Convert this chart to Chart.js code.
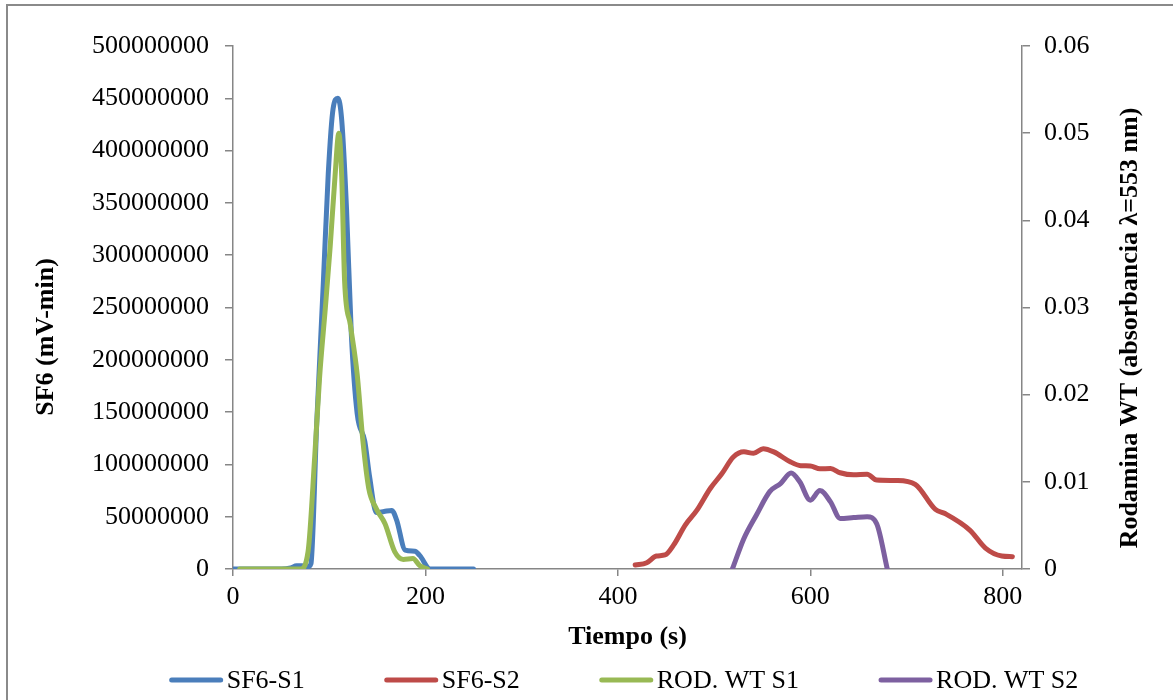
<!DOCTYPE html>
<html>
<head>
<meta charset="utf-8">
<script src="https://cdn.jsdelivr.net/npm/chart.js@4"></script>
<style>
  html, body { margin: 0; padding: 0; background: #fff; }
  #wrap { position: relative; width: 1173px; height: 700px; }
</style>
</head>
<body>
<div id="wrap"><canvas id="c" width="1173" height="700"></canvas></div>
<script>
// ---- Data ----
const seriesNames = ['SF6-S1', 'SF6-S2', 'ROD. WT S1', 'ROD. WT S2'];

// SF6-S1 (left axis, mV-min)
const sf6s1Time = [0, 10, 20, 30, 40, 50, 60, 66, 72, 78, 81, 87, 94, 99, 104, 109, 113, 118, 123, 129, 137, 142, 149, 157, 165, 170, 179, 189, 194, 205, 215, 230, 250];
const sf6s1Vals = [0, 0, 0, 0, 0, 0, 1000000, 3000000, 3000000, 2000000, 5000000, 139000000, 276000000, 378000000, 440000000, 450000000, 429000000, 344000000, 224000000, 149000000, 122000000, 88000000, 54000000, 55000000, 56000000, 47000000, 18000000, 17000000, 13000000, 0, 0, 0, 0];

// SF6-S2 (left axis, mV-min)
const sf6s2Time = [418, 430, 440, 449, 458, 470, 482, 496, 508, 520, 531, 541, 551, 562, 579, 590, 600, 610, 621, 631, 645, 659, 669, 690, 709, 730, 740, 766, 782, 799, 810];
const sf6s2Vals = [3800000, 6000000, 12400000, 13400000, 23000000, 42000000, 56000000, 77000000, 91000000, 107000000, 112000000, 110600000, 115000000, 112000000, 102600000, 98800000, 98500000, 95900000, 96000000, 92000000, 90000000, 90700000, 85000000, 84600000, 81000000, 57000000, 53000000, 37000000, 20000000, 12400000, 11800000];

// ROD. WT S1 (right axis, absorbance)
const rod1Time = [7, 20, 40, 60, 70, 78, 85, 90, 96, 101, 106, 110, 113, 116, 122, 129, 135, 141, 149, 158, 168, 177, 187, 194, 202];
const rod1Vals = [0, 0, 0, 0, 0, 0.002, 0.013, 0.022, 0.030, 0.037, 0.045, 0.050, 0.045, 0.033, 0.028, 0.0224, 0.0147, 0.0093, 0.0069, 0.0052, 0.002, 0.0011, 0.0012, 0.0004, 0];

// ROD. WT S2 (right axis, absorbance)
const rod2Time = [519, 531, 544, 558, 569, 580, 589, 600, 610, 621, 631, 645, 659, 669, 680];
const rod2Vals = [0, 0.0035, 0.0062, 0.0089, 0.0098, 0.011, 0.0100, 0.0079, 0.009, 0.0077, 0.0058, 0.0059, 0.006, 0.0052, 0];

// Tick labels / axis texts
const xTicks = [0, 200, 400, 600, 800];
const xTitle = 'Tiempo (s)';
const yTitle = 'SF6 (mV-min)';
const y1Title = 'Rodamina WT (absorbancia λ=553 nm)';

// ---- Styling ----
const FONT = '"Liberation Serif", "Times New Roman", serif';
const AXIS_GRAY = '#868686';
const colors = ['#4A7EBB', '#BE4B48', '#98B954', '#7D60A0'];

function pts(t, v) { return t.map((x, i) => ({ x: x, y: v[i] })); }

const mk = (i, t, v, axis, order) => ({
  label: seriesNames[i],
  data: pts(t, v),
  yAxisID: axis,
  borderColor: colors[i],
  backgroundColor: colors[i],
  borderWidth: 5,
  pointRadius: 0,
  cubicInterpolationMode: 'monotone',
  borderCapStyle: 'round',
  borderJoinStyle: 'round',
  fill: false,
  order: order
});

const decorPlugin = {
  id: 'decor',
  beforeDraw(chart) {
    const ctx = chart.ctx;
    ctx.save();
    ctx.strokeStyle = '#8a8a8a';
    ctx.lineWidth = 2;
    ctx.beginPath();
    ctx.moveTo(7, 700);
    ctx.lineTo(7, 5);
    ctx.lineTo(1173, 5);
    ctx.stroke();
    ctx.restore();
  },
  afterDraw(chart) {
    const ctx = chart.ctx;
    const ca = chart.chartArea;
    ctx.save();
    ctx.fillStyle = '#000';
    ctx.font = 'bold 26px ' + FONT;
    ctx.textAlign = 'center';
    ctx.textBaseline = 'middle';
    // x title
    ctx.fillText(xTitle, (ca.left + ca.right) / 2, 637);
    // left title
    ctx.save();
    ctx.translate(46, 337);
    ctx.rotate(-Math.PI / 2);
    ctx.fillText(yTitle, 0, 0);
    ctx.restore();
    // right title
    ctx.save();
    ctx.translate(1130, 328);
    ctx.rotate(-Math.PI / 2);
    ctx.fillText(y1Title, 0, 0);
    ctx.restore();

    // legend
    ctx.font = '26px ' + FONT;
    const lineLen = 53, gapText = 4, gapItem = 80;
    const ds = chart.data.datasets;
    const widths = ds.map(d => lineLen + gapText + ctx.measureText(d.label).width);
    const total = widths.reduce((a, b) => a + b, 0) + gapItem * (ds.length - 1);
    let x = 624 - total / 2;
    const ly = 681;
    ds.forEach((d, i) => {
      ctx.strokeStyle = d.borderColor;
      ctx.lineWidth = 5;
      ctx.lineCap = 'round';
      ctx.beginPath();
      ctx.moveTo(x + 2, ly - 1);
      ctx.lineTo(x + lineLen - 2, ly - 1);
      ctx.stroke();
      ctx.fillStyle = '#000';
      ctx.textAlign = 'left';
      ctx.fillText(d.label, x + lineLen + gapText, ly);
      x += widths[i] + gapItem;
    });
    ctx.restore();
  }
};

const tickFont = { family: FONT, size: 26 };

new Chart(document.getElementById('c'), {
  type: 'line',
  data: {
    datasets: [
      mk(0, sf6s1Time, sf6s1Vals, 'y', 4),
      mk(1, sf6s2Time, sf6s2Vals, 'y', 3),
      mk(2, rod1Time, rod1Vals, 'y1', 2),
      mk(3, rod2Time, rod2Vals, 'y1', 1)
    ]
  },
  options: {
    responsive: false,
    animation: false,
    events: [],
    layout: { padding: { top: 46, bottom: 41, left: 0, right: 0 } },
    plugins: { legend: { display: false }, tooltip: { enabled: false }, title: { display: false } },
    scales: {
      x: {
        type: 'linear',
        position: 'bottom',
        min: 0,
        max: 820,
        afterBuildTicks(scale) { scale.ticks = xTicks.map(v => ({ value: v })); },
        afterFit(scale) { scale.height = 90; },
        ticks: { stepSize: 200, font: tickFont, color: '#000', padding: 6, maxRotation: 0, includeBounds: false },
        grid: { drawOnChartArea: false, drawTicks: true, tickLength: 7, color: AXIS_GRAY, lineWidth: 1.5 },
        border: { color: AXIS_GRAY, width: 1.5 }
      },
      y: {
        type: 'linear',
        position: 'left',
        min: 0,
        max: 500000000,
        afterFit(scale) { scale.width = 233; },
        ticks: { stepSize: 50000000, font: tickFont, color: '#000', padding: 16, callback: v => String(Math.round(v)) },
        grid: { drawOnChartArea: false, drawTicks: true, tickLength: 8, color: AXIS_GRAY, lineWidth: 1.5 },
        border: { color: AXIS_GRAY, width: 1.5 }
      },
      y1: {
        type: 'linear',
        position: 'right',
        min: 0,
        max: 0.06,
        afterFit(scale) { scale.width = 151; },
        ticks: { stepSize: 0.01, font: tickFont, color: '#000', padding: 14, callback: v => (Math.abs(v) < 1e-9 ? '0' : v.toFixed(2)) },
        grid: { drawOnChartArea: false, drawTicks: true, tickLength: 8, color: AXIS_GRAY, lineWidth: 1.5 },
        border: { color: AXIS_GRAY, width: 1.5 }
      }
    }
  },
  plugins: [decorPlugin]
});
</script>
</body>
</html>
